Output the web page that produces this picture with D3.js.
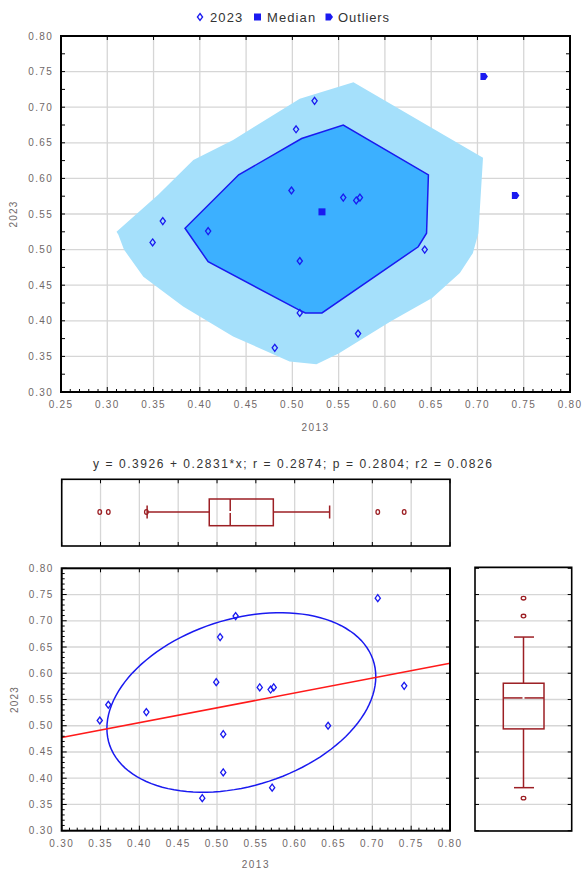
<!DOCTYPE html>
<html><head><meta charset="utf-8">
<script src="https://cdn.jsdelivr.net/npm/d3@7"></script>
<style>body{margin:0;background:#fff;} svg{display:block;font-family:"Liberation Sans",Arial,sans-serif;}</style>
</head><body><svg id="c" width="582" height="869"></svg>
<script>
// ---------------- data ----------------
const x2013 = [0.349,0.360,0.409,0.481,0.499,0.504,0.508,0.508,0.524,0.555,0.569,0.573,0.571,0.643,0.707,0.741];
const y2023 = [0.510,0.540,0.526,0.362,0.583,0.669,0.484,0.411,0.709,0.573,0.569,0.573,0.382,0.500,0.743,0.576];
const bagOutliers = [14,15];            // indices shown as outliers in the bag plot
const medianPoint = [0.532,0.553];
const bagX = [0.384,0.409,0.506,0.514,0.532,0.636,0.645,0.647,0.555,0.510,0.442];
const bagY = [0.530,0.483,0.416,0.411,0.411,0.504,0.523,0.605,0.675,0.656,0.605];
const fenceX = [0.310,0.355,0.393,0.436,0.508,0.566,0.706,0.701,0.695,0.681,0.651,0.606,0.550,0.526,0.497,0.436,0.382,0.339,0.318,0.312];
const fenceY = [0.525,0.577,0.626,0.654,0.712,0.735,0.629,0.523,0.495,0.467,0.432,0.399,0.354,0.339,0.343,0.378,0.420,0.462,0.500,0.521];
const xBoxStats = [0.410,0.490,0.517,0.5725,0.645]; // lower whisker, Q1, median, Q3, upper whisker
const yBoxStats = [0.382,0.494,0.553,0.581,0.669];
const regCoef = [0.3926,0.2831];
const regText = "y = 0.3926 + 0.2831*x;  r = 0.2874; p = 0.2804; r2 = 0.0826";
const ticksTopX = [0.25,0.30,0.35,0.40,0.45,0.50,0.55,0.60,0.65,0.70,0.75,0.80];
const ticksBotX = [0.30,0.35,0.40,0.45,0.50,0.55,0.60,0.65,0.70,0.75,0.80];
const ticksY = [0.30,0.35,0.40,0.45,0.50,0.55,0.60,0.65,0.70,0.75,0.80];
const legendLabels = ["2023","Median","Outliers"];
const axisTitles = ["2013","2023"];
const ellipseK = 1.6;

// ---------------- setup ----------------
const svg = d3.select("#c");
const BLUE = "#1a1af0", RED = "#ff1a1a", BOX = "#9c1f24", GRID = "#d6d6d6", LBL = "#6f6868";
const fmt = d3.format(".2f");

const x1 = d3.scaleLinear([0.25,0.80],[61,570]);
const y1 = d3.scaleLinear([0.30,0.80],[392,36]);
const x2 = d3.scaleLinear([0.30,0.80],[61.7,450]);
const y2 = d3.scaleLinear([0.30,0.80],[830.7,568.3]);
const pts = x2013.map((x,i)=>({x, y:y2023[i], i}));

function diamond(g, cx, cy, color){
  g.append("path").attr("d",`M${cx},${cy-3.5}L${cx+2.6},${cy}L${cx},${cy+3.5}L${cx-2.6},${cy}Z`)
   .attr("fill","none").attr("stroke",color).attr("stroke-width",1.3);
}
function outMark(g, cx, cy){
  g.append("path").attr("d",`M${cx-3.5},${cy-3.5}L${cx+1.5},${cy-3.5}L${cx+4},${cy}L${cx+1.5},${cy+3.5}L${cx-3.5},${cy+3.5}Z`)
   .attr("fill",BLUE);
}
function tickLabel(g, x, y, txt, anchor){
  g.append("text").attr("x",x).attr("y",y).attr("text-anchor",anchor)
   .attr("font-size",10).attr("letter-spacing",1.3).attr("fill",LBL).text(txt);
}

// ---------------- legend ----------------
const lg = svg.append("g");
diamond(lg, 200, 17, BLUE);
lg.append("text").attr("x",210).attr("y",21.5).attr("font-size",13).attr("letter-spacing",1.1).attr("fill","#333").text(legendLabels[0]);
lg.append("rect").attr("x",254).attr("y",13.5).attr("width",7).attr("height",7).attr("fill",BLUE);
lg.append("text").attr("x",267).attr("y",21.5).attr("font-size",13).attr("letter-spacing",1.1).attr("fill","#333").text(legendLabels[1]);
outMark(lg, 329, 17);
lg.append("text").attr("x",338).attr("y",21.5).attr("font-size",13).attr("letter-spacing",0.9).attr("fill","#333").text(legendLabels[2]);

// ---------------- top bag plot ----------------
const g1 = svg.append("g");
ticksTopX.forEach(v=>g1.append("line").attr("x1",x1(v)).attr("x2",x1(v)).attr("y1",y1(0.30)).attr("y2",y1(0.80)).attr("stroke",GRID).attr("stroke-width",1.3));
ticksY.forEach(v=>g1.append("line").attr("x1",x1(0.25)).attr("x2",x1(0.80)).attr("y1",y1(v)).attr("y2",y1(v)).attr("stroke",GRID).attr("stroke-width",1.3));
const line1 = d3.line().x(d=>x1(d[0])).y(d=>y1(d[1])).curve(d3.curveLinearClosed);
g1.append("path").attr("d",line1(fenceX.map((x,i)=>[x,fenceY[i]]))).attr("fill","#a5e0fb");
g1.append("path").attr("d",line1(bagX.map((x,i)=>[x,bagY[i]]))).attr("fill","#3cb0ff").attr("stroke",BLUE).attr("stroke-width",1.5);
pts.forEach(p=>{ if(bagOutliers.includes(p.i)) outMark(g1,x1(p.x),y1(p.y)); else diamond(g1,x1(p.x),y1(p.y),BLUE); });
g1.append("rect").attr("x",x1(medianPoint[0])-3.5).attr("y",y1(medianPoint[1])-3.5).attr("width",7).attr("height",7).attr("fill",BLUE);
// ticks
d3.range(0.25,0.8001,0.01).forEach(v=>{
  const major = Math.abs(v*20-Math.round(v*20))<1e-6;
  g1.append("line").attr("x1",x1(v)).attr("x2",x1(v)).attr("y1",y1(0.30)).attr("y2",y1(0.30)-(major?5:3)).attr("stroke","#000").attr("stroke-width",1);
});
ticksTopX.forEach(v=>g1.append("line").attr("x1",x1(v)).attr("x2",x1(v)).attr("y1",y1(0.80)).attr("y2",y1(0.80)+4).attr("stroke","#000"));
d3.range(0.30,0.8001,0.025).forEach(v=>{
  g1.append("line").attr("x1",x1(0.25)).attr("x2",x1(0.25)+4).attr("y1",y1(v)).attr("y2",y1(v)).attr("stroke","#000");
  g1.append("line").attr("x1",x1(0.80)).attr("x2",x1(0.80)-4).attr("y1",y1(v)).attr("y2",y1(v)).attr("stroke","#000");
});
g1.append("rect").attr("x",x1(0.25)).attr("y",y1(0.80)).attr("width",x1(0.80)-x1(0.25)).attr("height",y1(0.30)-y1(0.80)).attr("fill","none").attr("stroke","#000").attr("stroke-width",2);
ticksTopX.forEach(v=>tickLabel(g1,x1(v),408,fmt(v),"middle"));
ticksY.forEach(v=>tickLabel(g1,53,y1(v)+3.5,fmt(v),"end"));
g1.append("text").attr("x",(x1(0.25)+x1(0.8))/2).attr("y",430.5).attr("text-anchor","middle").attr("font-size",10).attr("letter-spacing",1.5).attr("fill",LBL).text(axisTitles[0]);
g1.append("text").attr("transform",`translate(17,${(y1(0.3)+y1(0.8))/2}) rotate(-90)`).attr("text-anchor","middle").attr("font-size",10).attr("letter-spacing",1.2).attr("fill",LBL).text(axisTitles[1]);

// ---------------- regression text ----------------
svg.append("text").attr("x",93).attr("y",467.5).attr("font-size",12).attr("fill","#333")
  .attr("textLength",399).attr("lengthAdjust","spacing").text(regText);

// ---------------- top (x) box plot ----------------
const gb = svg.append("g");
const bTop = 479.3, bBot = 546, bMid = 512;
ticksBotX.forEach(v=>{
  gb.append("line").attr("x1",x2(v)).attr("x2",x2(v)).attr("y1",bTop).attr("y2",bBot).attr("stroke",GRID).attr("stroke-width",1.3);
  gb.append("line").attr("x1",x2(v)).attr("x2",x2(v)).attr("y1",bTop).attr("y2",bTop+4).attr("stroke","#000");
  gb.append("line").attr("x1",x2(v)).attr("x2",x2(v)).attr("y1",bBot).attr("y2",bBot-4).attr("stroke","#000");
});
gb.append("line").attr("x1",x2(xBoxStats[0])).attr("x2",x2(xBoxStats[1])).attr("y1",bMid).attr("y2",bMid).attr("stroke",BOX).attr("stroke-width",1.5);
gb.append("line").attr("x1",x2(xBoxStats[3])).attr("x2",x2(xBoxStats[4])).attr("y1",bMid).attr("y2",bMid).attr("stroke",BOX).attr("stroke-width",1.5);
[0,4].forEach(k=>gb.append("line").attr("x1",x2(xBoxStats[k])).attr("x2",x2(xBoxStats[k])).attr("y1",bMid-6.5).attr("y2",bMid+6.5).attr("stroke",BOX).attr("stroke-width",1.5));
gb.append("rect").attr("x",x2(xBoxStats[1])).attr("y",499).attr("width",x2(xBoxStats[3])-x2(xBoxStats[1])).attr("height",26.7).attr("fill","none").attr("stroke",BOX).attr("stroke-width",1.5);
gb.append("line").attr("x1",x2(xBoxStats[2])).attr("x2",x2(xBoxStats[2])).attr("y1",499).attr("y2",bMid-1).attr("stroke",BOX).attr("stroke-width",1.5);
gb.append("line").attr("x1",x2(xBoxStats[2])).attr("x2",x2(xBoxStats[2])).attr("y1",bMid+1).attr("y2",525.7).attr("stroke",BOX).attr("stroke-width",1.5);
x2013.filter(v=>v<xBoxStats[0]||v>xBoxStats[4]).forEach(v=>
  gb.append("ellipse").attr("cx",x2(v)).attr("cy",bMid).attr("rx",1.8).attr("ry",2.3).attr("fill","none").attr("stroke",BOX).attr("stroke-width",1.3));
gb.append("rect").attr("x",x2(0.30)).attr("y",bTop).attr("width",x2(0.80)-x2(0.30)).attr("height",bBot-bTop).attr("fill","none").attr("stroke","#000").attr("stroke-width",1.6);

// ---------------- bottom scatter ----------------
const g2 = svg.append("g");
ticksBotX.forEach(v=>g2.append("line").attr("x1",x2(v)).attr("x2",x2(v)).attr("y1",y2(0.30)).attr("y2",y2(0.80)).attr("stroke",GRID).attr("stroke-width",1.3));
ticksY.forEach(v=>g2.append("line").attr("x1",x2(0.30)).attr("x2",x2(0.80)).attr("y1",y2(v)).attr("y2",y2(v)).attr("stroke",GRID).attr("stroke-width",1.3));
// ellipse from data covariance
const mx = d3.mean(x2013), my = d3.mean(y2023), n = x2013.length;
let sxx=0, syy=0, sxy=0;
x2013.forEach((x,i)=>{ sxx+=(x-mx)**2; syy+=(y2023[i]-my)**2; sxy+=(x-mx)*(y2023[i]-my); });
sxx/=(n-1); syy/=(n-1); sxy/=(n-1);
const l11 = Math.sqrt(sxx), l21 = sxy/l11, l22 = Math.sqrt(syy - l21*l21);
const ell = d3.range(0,361,3).map(a=>{ const t=a*Math.PI/180, c=Math.cos(t), s=Math.sin(t);
  return [mx + ellipseK*l11*c, my + ellipseK*(l21*c + l22*s)]; });
g2.append("path").attr("d",d3.line().x(d=>x2(d[0])).y(d=>y2(d[1]))(ell)).attr("fill","none").attr("stroke",BLUE).attr("stroke-width",1.5);
g2.append("line").attr("x1",x2(0.30)).attr("x2",x2(0.80)).attr("y1",y2(regCoef[0]+regCoef[1]*0.30)).attr("y2",y2(regCoef[0]+regCoef[1]*0.80)).attr("stroke",RED).attr("stroke-width",1.6);
pts.forEach(p=>diamond(g2,x2(p.x),y2(p.y),BLUE));
d3.range(0.30,0.8001,0.01).forEach(v=>{
  const major = Math.abs(v*20-Math.round(v*20))<1e-6;
  g2.append("line").attr("x1",x2(v)).attr("x2",x2(v)).attr("y1",y2(0.30)).attr("y2",y2(0.30)-(major?5:3)).attr("stroke","#000");
  g2.append("line").attr("x1",x2(0.30)).attr("x2",x2(0.30)+(major?5:3)).attr("y1",y2(v)).attr("y2",y2(v)).attr("stroke","#000");
});
ticksBotX.forEach(v=>g2.append("line").attr("x1",x2(v)).attr("x2",x2(v)).attr("y1",y2(0.80)).attr("y2",y2(0.80)+4).attr("stroke","#000"));
ticksY.forEach(v=>g2.append("line").attr("x1",x2(0.80)).attr("x2",x2(0.80)-4).attr("y1",y2(v)).attr("y2",y2(v)).attr("stroke","#000"));
g2.append("rect").attr("x",x2(0.30)).attr("y",y2(0.80)).attr("width",x2(0.80)-x2(0.30)).attr("height",y2(0.30)-y2(0.80)).attr("fill","none").attr("stroke","#000").attr("stroke-width",2);
ticksBotX.forEach(v=>tickLabel(g2,x2(v),846.5,fmt(v),"middle"));
ticksY.forEach(v=>tickLabel(g2,53.5,y2(v)+3.5,fmt(v),"end"));
g2.append("text").attr("x",(x2(0.3)+x2(0.8))/2).attr("y",867.5).attr("text-anchor","middle").attr("font-size",10).attr("letter-spacing",1.5).attr("fill",LBL).text(axisTitles[0]);
g2.append("text").attr("transform",`translate(18,${(y2(0.3)+y2(0.8))/2}) rotate(-90)`).attr("text-anchor","middle").attr("font-size",10).attr("letter-spacing",1.2).attr("fill",LBL).text(axisTitles[1]);

// ---------------- right (y) box plot ----------------
const gr = svg.append("g");
const rL = 475, rR = 571.7, rMid = 523.5;
ticksY.forEach(v=>{
  gr.append("line").attr("x1",rL).attr("x2",rR).attr("y1",y2(v)).attr("y2",y2(v)).attr("stroke",GRID).attr("stroke-width",1.3);
  gr.append("line").attr("x1",rL).attr("x2",rL+4).attr("y1",y2(v)).attr("y2",y2(v)).attr("stroke","#000");
  gr.append("line").attr("x1",rR).attr("x2",rR-4).attr("y1",y2(v)).attr("y2",y2(v)).attr("stroke","#000");
});
gr.append("line").attr("x1",rMid).attr("x2",rMid).attr("y1",y2(yBoxStats[0])).attr("y2",y2(yBoxStats[1])).attr("stroke",BOX).attr("stroke-width",1.5);
gr.append("line").attr("x1",rMid).attr("x2",rMid).attr("y1",y2(yBoxStats[3])).attr("y2",y2(yBoxStats[4])).attr("stroke",BOX).attr("stroke-width",1.5);
[0,4].forEach(k=>gr.append("line").attr("x1",rMid-9.5).attr("x2",rMid+10.5).attr("y1",y2(yBoxStats[k])).attr("y2",y2(yBoxStats[k])).attr("stroke",BOX).attr("stroke-width",1.5));
gr.append("rect").attr("x",503.3).attr("y",y2(yBoxStats[3])).attr("width",40.7).attr("height",y2(yBoxStats[1])-y2(yBoxStats[3])).attr("fill","none").attr("stroke",BOX).attr("stroke-width",1.5);
gr.append("line").attr("x1",503.3).attr("x2",rMid-1).attr("y1",y2(yBoxStats[2])).attr("y2",y2(yBoxStats[2])).attr("stroke",BOX).attr("stroke-width",1.5);
gr.append("line").attr("x1",rMid+1).attr("x2",544).attr("y1",y2(yBoxStats[2])).attr("y2",y2(yBoxStats[2])).attr("stroke",BOX).attr("stroke-width",1.5);
y2023.filter(v=>v<yBoxStats[0]||v>yBoxStats[4]).forEach(v=>
  gr.append("ellipse").attr("cx",rMid).attr("cy",y2(v)).attr("rx",2.3).attr("ry",1.8).attr("fill","none").attr("stroke",BOX).attr("stroke-width",1.3));
gr.append("rect").attr("x",rL).attr("y",567.3).attr("width",rR-rL).attr("height",831-567.3).attr("fill","none").attr("stroke","#000").attr("stroke-width",1.6);
</script></body></html>
